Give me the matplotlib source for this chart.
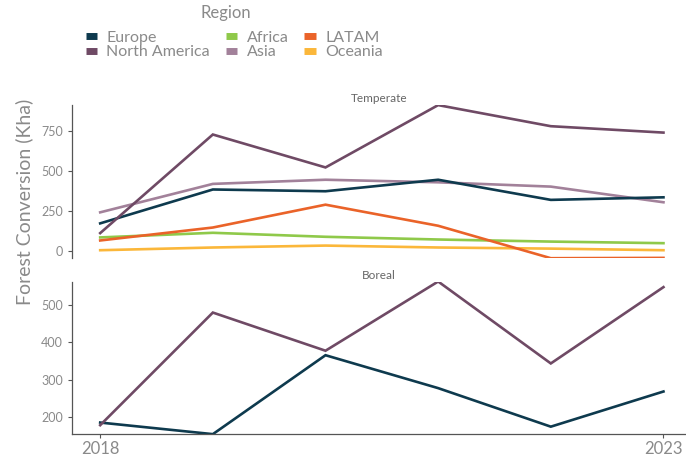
import matplotlib.pyplot as plt
from matplotlib.lines import Line2D

years = [2018, 2019, 2020, 2021, 2022, 2023]
regions = ["Europe", "North America", "Africa", "Asia", "LATAM", "Oceania"]
colors = {
    "Europe": "#0e3a4e",
    "North America": "#6f4a65",
    "Africa": "#8fc94a",
    "Asia": "#a2819a",
    "LATAM": "#ea6329",
    "Oceania": "#fbb73a",
}

# Temperate biome (Kha)
temperate_europe = [174, 386, 375, 447, 321, 337]
temperate_north_america = [113, 730, 524, 914, 782, 742]
temperate_africa = [86, 115, 90, 73, 60, 50]
temperate_asia = [243, 421, 447, 431, 404, 306]
temperate_latam = [67, 148, 291, 159, -44, -42]
temperate_oceania = [6, 23, 35, 23, 16, 6]

# Boreal biome (Kha)
boreal_europe = [186, 155, 366, 278, 175, 269]
boreal_north_america = [179, 480, 378, 563, 344, 548]

temperate = {
    "Europe": temperate_europe,
    "North America": temperate_north_america,
    "Africa": temperate_africa,
    "Asia": temperate_asia,
    "LATAM": temperate_latam,
    "Oceania": temperate_oceania,
}
boreal = {
    "Europe": boreal_europe,
    "North America": boreal_north_america,
}

plt.rcParams["font.family"] = ["Lato", "DejaVu Sans"]
txt = "#8a8a8a"

fig = plt.figure(figsize=(6.86, 4.57), dpi=100)
ax1 = fig.add_axes([0.105, 0.435, 0.895, 0.335])
ax2 = fig.add_axes([0.105, 0.050, 0.895, 0.334])

draw_order = ["Oceania", "Africa", "LATAM", "Asia", "Europe", "North America"]
for ax, data in [(ax1, temperate), (ax2, boreal)]:
    for r in draw_order:
        if r in data:
            ax.plot(years, data[r], color=colors[r], lw=1.9, solid_joinstyle="miter")
    ax.set_xlim(2017.75, 2023.2)
    for s in ["top", "right"]:
        ax.spines[s].set_visible(False)
    for s in ["left", "bottom"]:
        ax.spines[s].set_color("#555555")
        ax.spines[s].set_linewidth(0.9)
    ax.tick_params(colors="#555555", labelcolor=txt, labelsize=9, length=3, width=0.8)

ax1.set_ylim(-44, 914)
ax1.set_yticks([0, 250, 500, 750])
ax1.set_xticks([])
ax1.spines["bottom"].set_visible(False)

ax2.set_ylim(155, 563)
ax2.set_yticks([200, 300, 400, 500])
ax2.set_xticks([2018, 2023])
ax2.tick_params(axis="x", labelsize=12, pad=2)

ax1.set_title("Temperate", fontsize=8.5, color="#666666", pad=2)
ax2.set_title("Boreal", fontsize=8.5, color="#666666", pad=2)

fig.text(0.036, 0.558, "Forest Conversion (Kha)", rotation=90, ha="center", va="center",
         fontsize=14, color=txt)

handles = [Line2D([], [], color=colors[r], lw=5, solid_capstyle="butt") for r in regions]
leg = fig.legend(handles, regions, ncol=3, loc="upper left", bbox_to_anchor=(0.113, 0.950),
                 frameon=False, fontsize=11.5,
                 handlelength=0.7, handletextpad=0.6, columnspacing=1.0,
                 labelspacing=0.0, borderpad=0)
for t in leg.get_texts():
    t.set_color(txt)
fig.text(0.329, 0.972, "Region", ha="center", va="center", fontsize=12, color=txt)

fig.savefig("out.png", dpi=100)
